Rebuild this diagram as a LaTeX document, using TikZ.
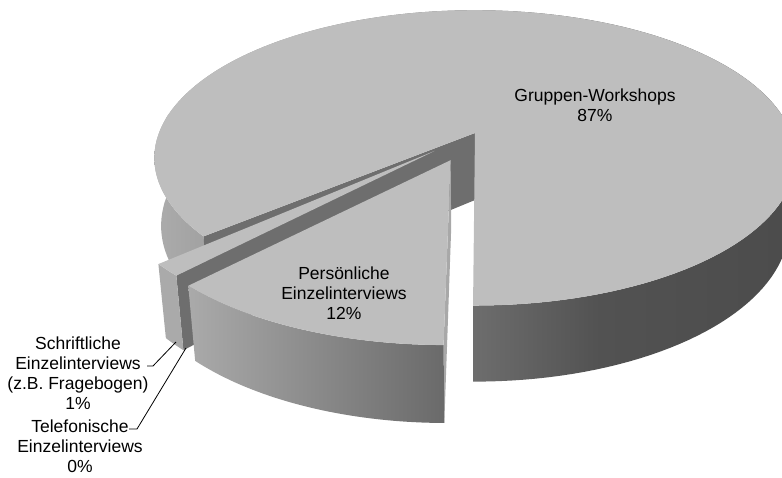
\documentclass[tikz,border=0pt]{standalone}
\usepackage{fontspec}
\setmainfont{Liberation Sans}
% surface colours
\definecolor{topgray}{RGB}{190,190,190}
\definecolor{cutgray}{RGB}{110,110,110}
\definecolor{edgegray}{RGB}{168,168,168}
\definecolor{boxgray}{RGB}{170,170,170}
\definecolor{sideA}{RGB}{172,172,172}
\definecolor{sideB}{RGB}{160,160,160}
\definecolor{sideC}{RGB}{110,110,110}
\definecolor{sideD}{RGB}{82,82,82}
\definecolor{sideE}{RGB}{76,76,76}
\definecolor{smallL}{RGB}{170,170,170}
\definecolor{smallR}{RGB}{106,106,106}
\pgfdeclarehorizontalshading{bigside}{100bp}{color(0bp)=(sideA); color(25bp)=(sideA); color(29.4bp)=(sideB); color(49.6bp)=(sideC); color(59.7bp)=(sideD); color(74bp)=(sideE); color(100bp)=(sideE)}
\begin{document}
\begin{tikzpicture}[x=1pt,y=1pt,
  % perspective view of the pie: world (a,b,c) -> page
  declare function={
    dep(\a,\b,\c)=\b*0.891-\c*0.454+5.29;
    sx(\a,\b,\c)=475+1672*\a/dep(\a,\b,\c);
    sy(\a,\b,\c)=344+1672*(\b*0.454+\c*0.891)/dep(\a,\b,\c);
  },
  topface/.style={fill=topgray},
  cutface/.style={fill=cutgray},
  lbl/.style={inner sep=0pt, align=center, text=black,
    font=\fontsize{17.5}{20}\selectfont},
  leader/.style={draw=black, line width=0.8pt}]
\useasboundingbox (0,0) rectangle (782,477);
\clip (0,0) rectangle (782,477);
\def\H{0.243}
% offsets of the pulled-out slices
\def\pox{-0.0746}\def\poy{-0.1834}
\def\sox{-0.1250}\def\soy{-0.1224}

% ---- large slice (87 %) ----
\shade[shading=bigside]
  plot[domain=-90.3:220,samples=160,variable=\t]
    ({sx(cos(\t),sin(\t),0)},{sy(cos(\t),sin(\t),0)})
  -- plot[domain=220:-90.3,samples=160,variable=\t]
    ({sx(cos(\t),sin(\t),-\H)},{sy(cos(\t),sin(\t),-\H)}) -- cycle;
\fill[cutface]
  ({sx(0,0,0)},{sy(0,0,0)})
  -- ({sx(cos(220),sin(220),0)},{sy(cos(220),sin(220),0)})
  -- ({sx(cos(220),sin(220),-\H)},{sy(cos(220),sin(220),-\H)})
  -- ({sx(0,0,-\H)},{sy(0,0,-\H)}) -- cycle;
\fill[topface]
  ({sx(0,0,0)},{sy(0,0,0)})
  -- plot[domain=-90.3:220,samples=160,variable=\t]
    ({sx(cos(\t),sin(\t),0)},{sy(cos(\t),sin(\t),0)}) -- cycle;

% ---- thin slice (1 %) ----
\fill[cutface]
  ({sx(\sox,\soy,0)},{sy(\sox,\soy,0)})
  -- ({sx(\sox+cos(226.8),\soy+sin(226.8),0)},{sy(\sox+cos(226.8),\soy+sin(226.8),0)})
  -- ({sx(\sox+cos(226.8),\soy+sin(226.8),-\H)},{sy(\sox+cos(226.8),\soy+sin(226.8),-\H)})
  -- ({sx(\sox,\soy,-\H)},{sy(\sox,\soy,-\H)}) -- cycle;
\fill[boxgray]
  plot[domain=222:226.8,samples=10,variable=\t]
    ({sx(\sox+cos(\t),\soy+sin(\t),0)},{sy(\sox+cos(\t),\soy+sin(\t),0)})
  -- plot[domain=226.8:222,samples=10,variable=\t]
    ({sx(\sox+cos(\t),\soy+sin(\t),-\H)},{sy(\sox+cos(\t),\soy+sin(\t),-\H)}) -- cycle;
\fill[topface]
  ({sx(\sox,\soy,0)},{sy(\sox,\soy,0)})
  -- plot[domain=222:226.8,samples=10,variable=\t]
    ({sx(\sox+cos(\t),\soy+sin(\t),0)},{sy(\sox+cos(\t),\soy+sin(\t),0)}) -- cycle;

% ---- pulled-out slice (12 %) ----
\fill[edgegray]
  ({sx(\pox,\poy,0)},{sy(\pox,\poy,0)})
  -- ({sx(\pox+cos(269.7),\poy+sin(269.7),0)},{sy(\pox+cos(269.7),\poy+sin(269.7),0)})
  -- ({sx(\pox+cos(269.7),\poy+sin(269.7),-\H)},{sy(\pox+cos(269.7),\poy+sin(269.7),-\H)})
  -- ({sx(\pox,\poy,-\H)},{sy(\pox,\poy,-\H)}) -- cycle;
\shade[left color=smallL, right color=smallR]
  plot[domain=226:269.7,samples=40,variable=\t]
    ({sx(\pox+cos(\t),\poy+sin(\t),0)},{sy(\pox+cos(\t),\poy+sin(\t),0)})
  -- plot[domain=269.7:226,samples=40,variable=\t]
    ({sx(\pox+cos(\t),\poy+sin(\t),-\H)},{sy(\pox+cos(\t),\poy+sin(\t),-\H)}) -- cycle;
\fill[topface]
  ({sx(\pox,\poy,0)},{sy(\pox,\poy,0)})
  -- plot[domain=226:269.7,samples=40,variable=\t]
    ({sx(\pox+cos(\t),\poy+sin(\t),0)},{sy(\pox+cos(\t),\poy+sin(\t),0)}) -- cycle;

% ---- labels ----
\node[lbl] (gw) at (595,372) {Gruppen-Workshops\\87\%};
\node[lbl] (pe) at (344,184) {Persönliche\\Einzelinterviews\\12\%};
\node[lbl] (se) at (78,104) {Schriftliche\\Einzelinterviews\\(z.B. Fragebogen)\\1\%};
\node[lbl] (te) at (80,30.5) {Telefonische\\Einzelinterviews\\0\%};

% ---- leader lines ----
\coordinate (sA) at (147,111);
\coordinate (sB) at (153,111);
\coordinate (sC) at (176,135);
\coordinate (tA) at (129,48);
\coordinate (tB) at (137,48);
\coordinate (tC) at (186,129);
\draw[leader] (sA) -- (sB) -- (sC);
\draw[leader] (tA) -- (tB) -- (tC);
\end{tikzpicture}
\end{document}
